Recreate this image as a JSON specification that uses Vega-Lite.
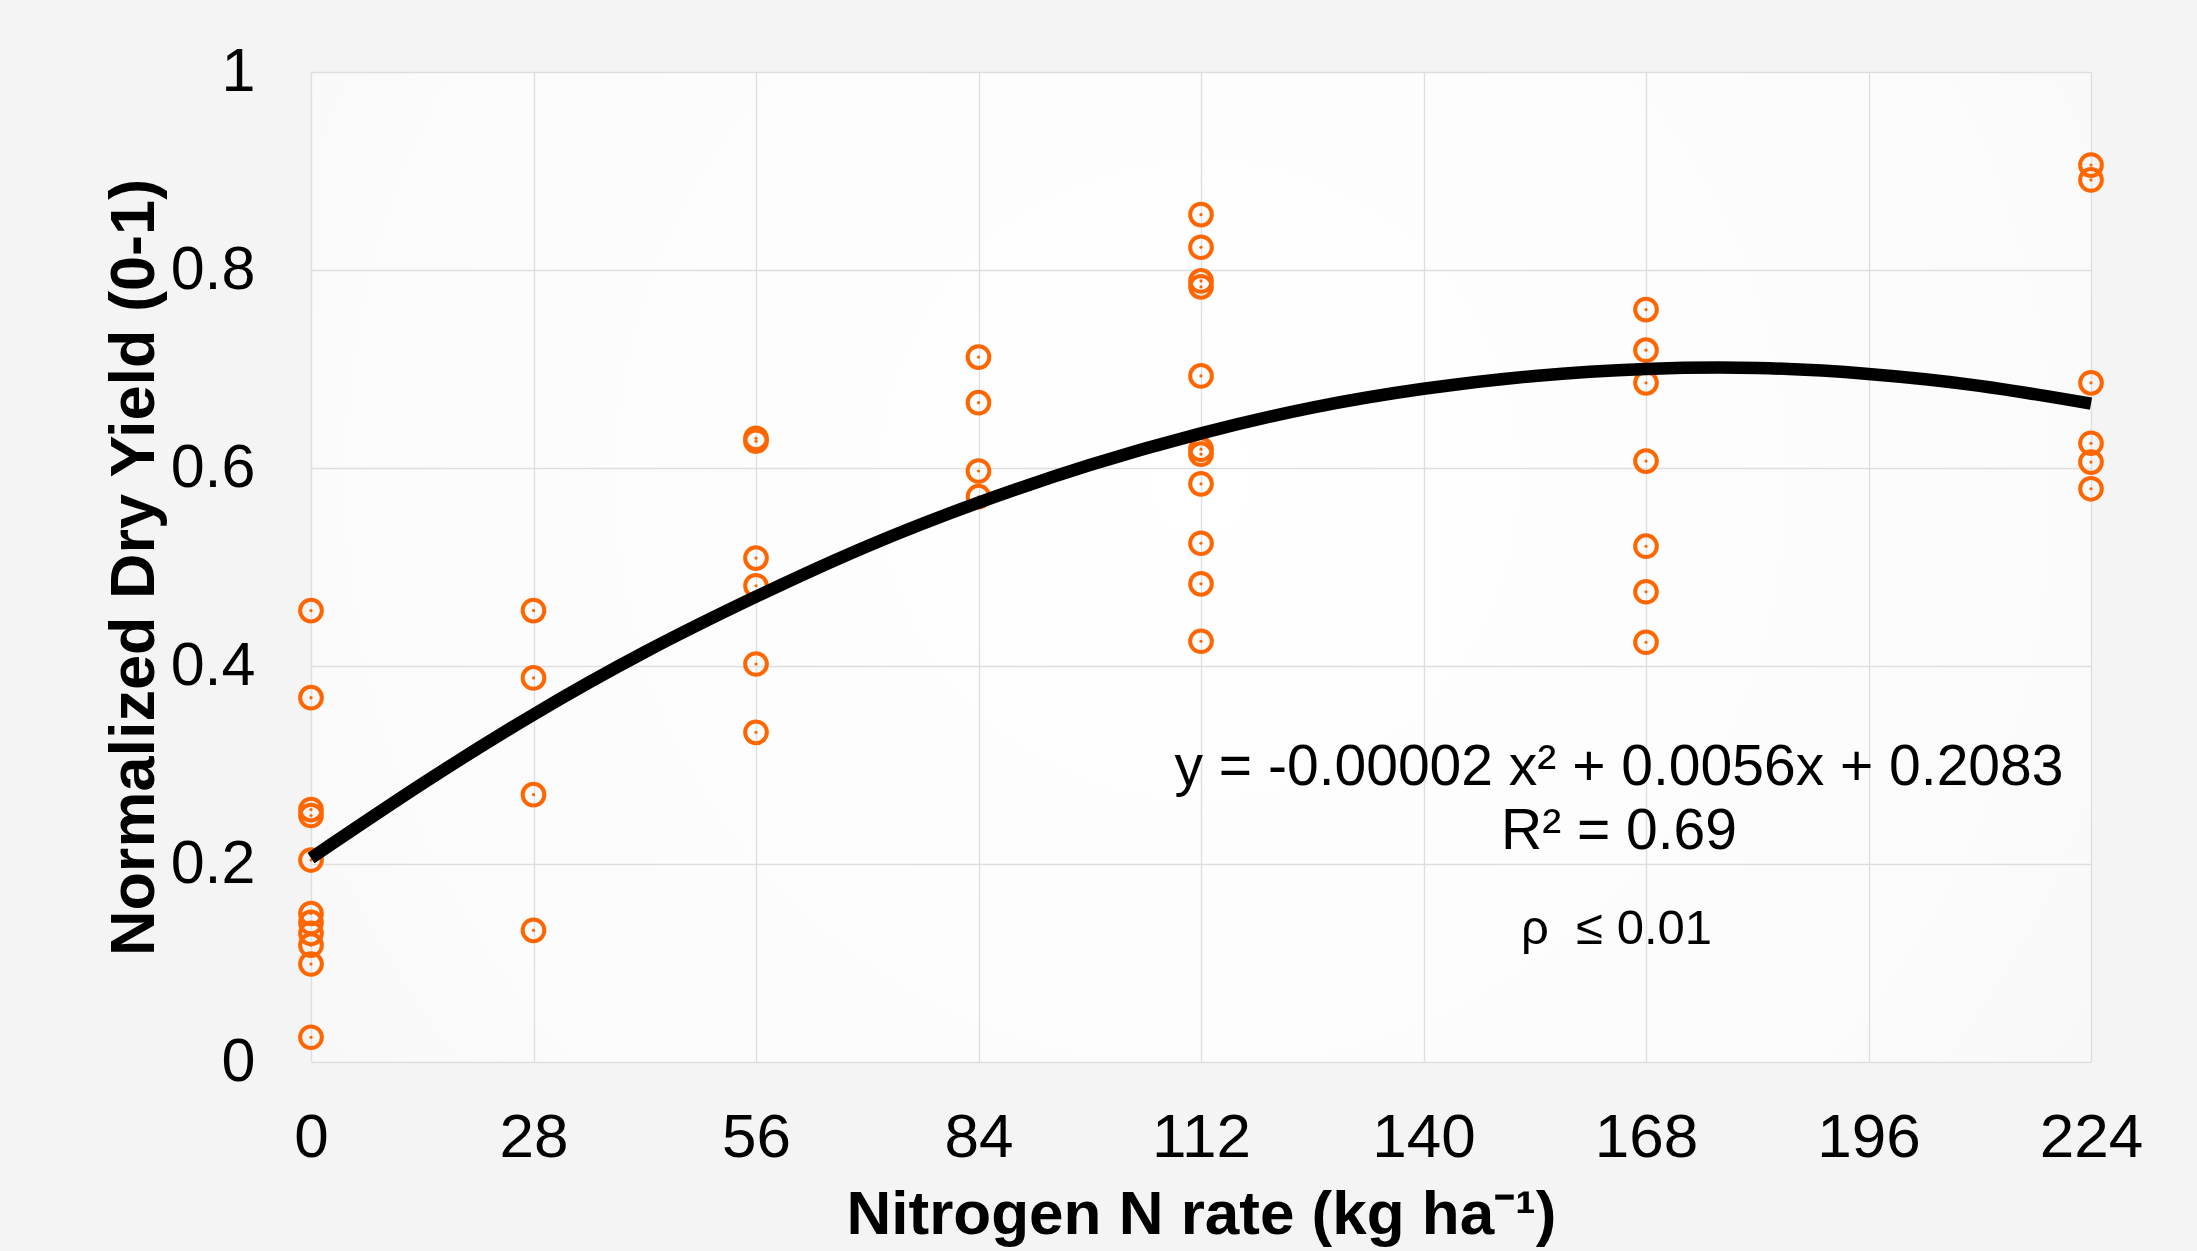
{
  "$schema": "https://vega.github.io/schema/vega-lite/v6.json",
  "width": 1780,
  "height": 990,
  "autosize": {"type": "none"},
  "padding": {"left": 311, "top": 72, "right": 106, "bottom": 189},
  "background": "#f4f4f4",
  "config": {
    "font": "Liberation Sans",
    "view": {
      "stroke": null,
      "fill": {"gradient": "radial", "x1": 0.5, "y1": 0.45, "x2": 0.5, "y2": 0.45, "r1": 0, "r2": 0.8,
        "stops": [{"offset": 0, "color": "#ffffff"}, {"offset": 0.6, "color": "#fbfbfb"}, {"offset": 1, "color": "#f3f3f3"}]}
    },
    "axis": {
      "grid": true,
      "gridColor": "#dedede",
      "gridWidth": 1.3,
      "domain": false,
      "ticks": false,
      "tickSize": 0,
      "labelColor": "#000000",
      "labelFont": "Liberation Sans",
      "titleFont": "Liberation Sans",
      "titleColor": "#000000",
      "titleFontWeight": "bold",
      "labelOverlap": false,
      "labelFlush": false,
      "labelBound": false
    }
  },
  "datasets": {
    "points": [
      {"N": 0, "Y": 0.456}, {"N": 0, "Y": 0.368}, {"N": 0, "Y": 0.255}, {"N": 0, "Y": 0.249},
      {"N": 0, "Y": 0.204}, {"N": 0, "Y": 0.150}, {"N": 0, "Y": 0.141}, {"N": 0, "Y": 0.130},
      {"N": 0, "Y": 0.118}, {"N": 0, "Y": 0.099}, {"N": 0, "Y": 0.025},
      {"N": 28, "Y": 0.456}, {"N": 28, "Y": 0.388}, {"N": 28, "Y": 0.270}, {"N": 28, "Y": 0.133},
      {"N": 56, "Y": 0.630}, {"N": 56, "Y": 0.627}, {"N": 56, "Y": 0.509}, {"N": 56, "Y": 0.481},
      {"N": 56, "Y": 0.402}, {"N": 56, "Y": 0.333},
      {"N": 84, "Y": 0.712}, {"N": 84, "Y": 0.666}, {"N": 84, "Y": 0.597}, {"N": 84, "Y": 0.571},
      {"N": 112, "Y": 0.856}, {"N": 112, "Y": 0.823}, {"N": 112, "Y": 0.789}, {"N": 112, "Y": 0.783},
      {"N": 112, "Y": 0.693}, {"N": 112, "Y": 0.619}, {"N": 112, "Y": 0.614}, {"N": 112, "Y": 0.584},
      {"N": 112, "Y": 0.524}, {"N": 112, "Y": 0.483}, {"N": 112, "Y": 0.425},
      {"N": 168, "Y": 0.760}, {"N": 168, "Y": 0.719}, {"N": 168, "Y": 0.686}, {"N": 168, "Y": 0.607},
      {"N": 168, "Y": 0.521}, {"N": 168, "Y": 0.475}, {"N": 168, "Y": 0.424},
      {"N": 224, "Y": 0.906}, {"N": 224, "Y": 0.891}, {"N": 224, "Y": 0.686}, {"N": 224, "Y": 0.625},
      {"N": 224, "Y": 0.606}, {"N": 224, "Y": 0.579}
    ],
    "curve": [
      {"N": 0, "Y": 0.206}, {"N": 14, "Y": 0.281}, {"N": 28, "Y": 0.351}, {"N": 42, "Y": 0.414},
      {"N": 56, "Y": 0.470}, {"N": 70, "Y": 0.521}, {"N": 84, "Y": 0.565}, {"N": 98, "Y": 0.603},
      {"N": 112, "Y": 0.635}, {"N": 126, "Y": 0.661}, {"N": 140, "Y": 0.680}, {"N": 154, "Y": 0.693},
      {"N": 168, "Y": 0.700}, {"N": 182, "Y": 0.701}, {"N": 196, "Y": 0.695}, {"N": 210, "Y": 0.683},
      {"N": 224, "Y": 0.665}
    ],
    "fitnotes": [
      {"N": 164.6, "Y": 0.280, "label": "y = -0.00002 x² + 0.0056x + 0.2083"},
      {"N": 164.6, "Y": 0.215, "label": "R² = 0.69"}
    ],
    "pnote": [
      {"N": 164.3, "Y": 0.119, "label": "ρ \u00a0≤ 0.01"}
    ]
  },
  "layer": [
    {
      "data": {"name": "points"},
      "mark": {"type": "point", "shape": "circle", "filled": false, "size": 470, "strokeWidth": 4, "color": "#ff6600", "opacity": 1},
      "encoding": {
        "x": {
          "field": "N", "type": "quantitative",
          "scale": {"domain": [0, 224], "nice": false, "zero": false},
          "axis": {
            "values": [0, 28, 56, 84, 112, 140, 168, 196, 224],
            "title": "Nitrogen N rate (kg ha⁻¹)",
            "labelFontSize": 62,
            "labelPadding": 45,
            "titleFontSize": 62,
            "titleBaseline": "alphabetic",
            "titleAlign": "center",
            "titleX": 890,
            "titleY": 171
          }
        },
        "y": {
          "field": "Y", "type": "quantitative",
          "scale": {"domain": [0, 1], "nice": false, "zero": false},
          "axis": {
            "values": [0, 0.2, 0.4, 0.6, 0.8, 1],
            "format": "~g",
            "title": "Normalized Dry Yield (0-1)",
            "labelFontSize": 61,
            "labelPadding": 56,
            "titleFontSize": 63,
            "titleAngle": -90,
            "titleBaseline": "alphabetic",
            "titleAlign": "center",
            "titleX": -158,
            "titleY": 495
          }
        }
      }
    },
    {
      "data": {"name": "points"},
      "mark": {"type": "point", "shape": "circle", "filled": true, "size": 10, "color": "#ff6600", "opacity": 1},
      "encoding": {
        "x": {"field": "N", "type": "quantitative"},
        "y": {"field": "Y", "type": "quantitative"}
      }
    },
    {
      "data": {"name": "curve"},
      "mark": {"type": "line", "color": "#000000", "strokeWidth": 12.5, "interpolate": "natural"},
      "encoding": {
        "x": {"field": "N", "type": "quantitative"},
        "y": {"field": "Y", "type": "quantitative"}
      }
    },
    {
      "data": {"name": "fitnotes"},
      "mark": {"type": "text", "fontSize": 57, "align": "center", "baseline": "alphabetic", "color": "#000000", "font": "Liberation Sans"},
      "encoding": {
        "x": {"field": "N", "type": "quantitative"},
        "y": {"field": "Y", "type": "quantitative"},
        "text": {"field": "label"}
      }
    },
    {
      "data": {"name": "pnote"},
      "mark": {"type": "text", "fontSize": 49, "align": "center", "baseline": "alphabetic", "color": "#000000", "font": "Liberation Sans"},
      "encoding": {
        "x": {"field": "N", "type": "quantitative"},
        "y": {"field": "Y", "type": "quantitative"},
        "text": {"field": "label"}
      }
    }
  ]
}
